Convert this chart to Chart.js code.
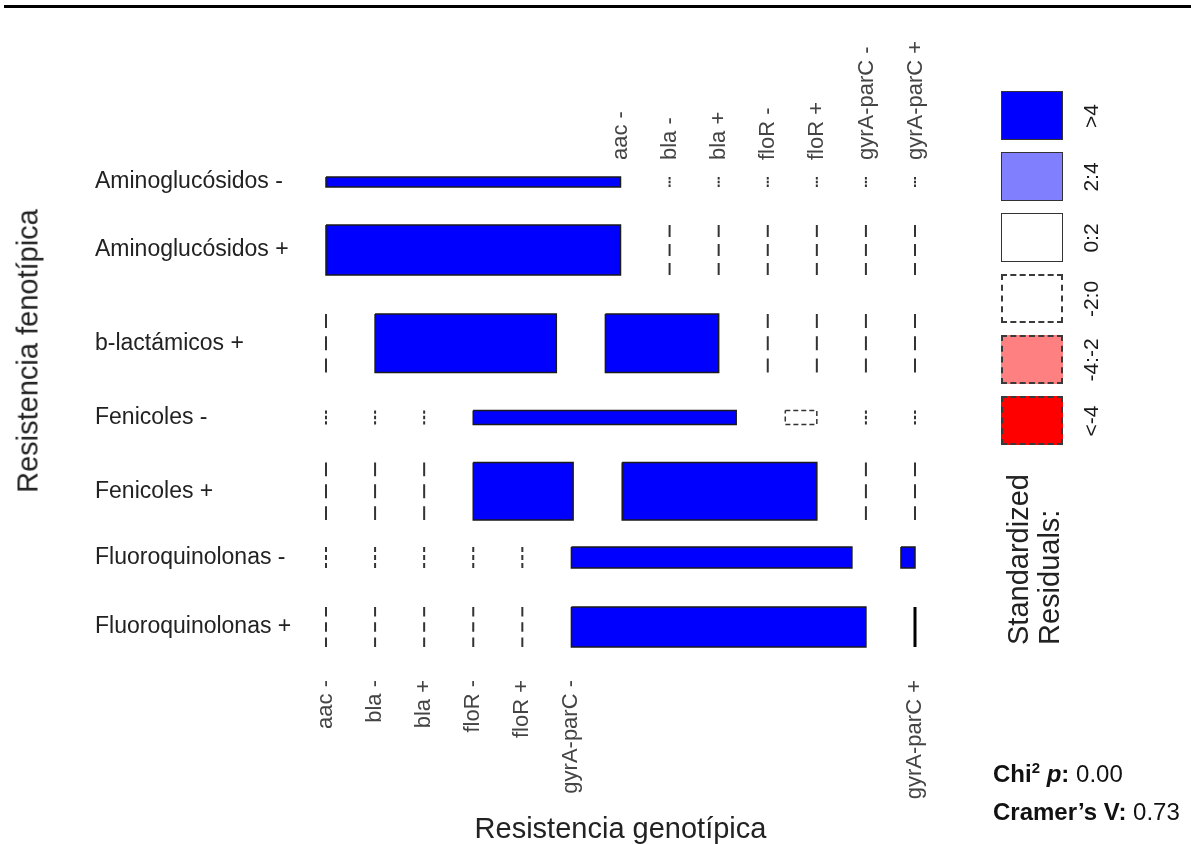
<!DOCTYPE html>
<html>
<head>
  <meta charset="UTF-8">
  <title>Resistencia fenotípica vs genotípica</title>
  <script src="https://cdn.jsdelivr.net/npm/chart.js"></script>
  <style>
    body { margin: 0; background: #fff; font-family: "Liberation Sans", Arial, sans-serif; color: #222; }
    #wrap { position: relative; width: 1191px; height: 844px; overflow: hidden; }
    #mosaic { position: absolute; left: 0; top: 0; }
    .abs { position: absolute; white-space: nowrap; }
    #ytitle { left: 28px; top: 351px; font-size: 29px; transform: translate(-50%, -50%) rotate(-90deg); }
    #ltitle { left: 1003px; top: 645px; font-size: 29px; line-height: 31px; transform-origin: 0 0; transform: rotate(-90deg); }
    .lbox { position: absolute; box-sizing: border-box; left: 1001px; width: 62px; height: 49px; border: 1.5px solid #333; }
    .llab { position: absolute; font-size: 21px; color: #1a1a1a; transform: translate(-50%, -50%) rotate(-90deg); white-space: nowrap; }
    .stats { font-size: 24px; color: #111; line-height: 28px; }
    .stats sup { font-size: 15px; }
  </style>
</head>
<body>
<div id="wrap">
  <div class="abs" style="left:4px;top:5px;width:1187px;height:3px;background:#000"></div>
  <canvas id="mosaic" width="1191" height="844"></canvas>
  <div id="ytitle" class="abs">Resistencia fenotípica</div>
  <div id="ltitle" class="abs">Standardized<br>Residuals:</div>
  <div id="legend"></div>
  <div class="abs stats" style="left:993px;top:754px"><b>Chi<sup>2</sup> <i>p</i>:</b> 0.00</div>
  <div class="abs stats" style="left:993px;top:798px"><b>Cramer’s V:</b> 0.73</div>
</div>
<script>
  // phenotype rows, genotype columns
  const rowLabels = ['Aminoglucósidos -', 'Aminoglucósidos +', 'b-lactámicos +', 'Fenicoles -',
                     'Fenicoles +', 'Fluoroquinolonas -', 'Fluoroquinolonas +'];
  const colLabels = ['aac -', 'bla -', 'bla +', 'floR -', 'floR +', 'gyrA-parC -', 'gyrA-parC +'];

  // cell counts read from the mosaic (row x column)
  const counts = [
    [20, 0, 0, 0, 0, 0, 0],
    [100, 0, 0, 0, 0, 0, 0],
    [0, 72, 45, 0, 0, 0, 0],
    [0, 0, 0, 25, 3, 0, 0],
    [0, 0, 0, 39, 76, 0, 0],
    [0, 0, 0, 0, 0, 40, 2],
    [0, 0, 0, 0, 0, 80, 0]
  ];

  // standardized residual class of each cell
  const residualClass = [
    ['>4', '-2:0', '-2:0', '-2:0', '-2:0', '-2:0', '-2:0'],
    ['>4', '-2:0', '-2:0', '-2:0', '-2:0', '-2:0', '-2:0'],
    ['-2:0', '>4', '>4', '-2:0', '-2:0', '-2:0', '-2:0'],
    ['-2:0', '-2:0', '-2:0', '>4', '-2:0', '-2:0', '-2:0'],
    ['-2:0', '-2:0', '-2:0', '>4', '>4', '-2:0', '-2:0'],
    ['-2:0', '-2:0', '-2:0', '-2:0', '-2:0', '>4', '>4'],
    ['-2:0', '-2:0', '-2:0', '-2:0', '-2:0', '>4', '0:2']
  ];

  const shadeLevels = ['>4', '2:4', '0:2', '-2:0', '-4:-2', '<-4'];
  const shadeFill = ['#0000ff', '#8080ff', '#ffffff', '#ffffff', '#ff8080', '#ff0000'];

  // mosaic layout: rows stacked, each row split by its column shares
  const gapX = 1 / 6;
  const gapsY = [76, 78, 76, 76, 54, 78];
  const rowTotals = counts.map(r => r.reduce((a, b) => a + b, 0));
  const cells = [];
  const rowCenters = [];
  let yPos = 0;
  counts.forEach((row, i) => {
    let xPos = 0;
    row.forEach((n, j) => {
      const w = n / rowTotals[i];
      cells.push({ i, j, x0: xPos, x1: xPos + w, y0: yPos, y1: yPos + rowTotals[i], cls: residualClass[i][j] });
      xPos += w + gapX;
    });
    rowCenters.push(yPos + rowTotals[i] / 2);
    yPos += rowTotals[i] + (gapsY[i] || 0);
  });
  const yMax = yPos;
  const xMax = 1 + gapX * (colLabels.length - 1);
  const topTicks = cells.filter(c => c.i === 0).map(c => c.x1);
  const bottomTicks = cells.filter(c => c.i === counts.length - 1).map(c => c.x0);

  const datasets = cells.map(c => {
    const lvl = shadeLevels.indexOf(c.cls);
    const negative = lvl >= 3;
    if (c.x1 - c.x0 === 0) {
      return {
        data: [{ x: c.x0, y: c.y0 }, { x: c.x0, y: c.y1 }],
        showLine: true, fill: false, clip: false,
        borderColor: negative ? '#333' : '#000',
        borderWidth: negative ? 2 : 3,
        borderDash: negative ? (ctx) => {
          const s = ctx.chart.scales.y;
          const h = Math.abs(s.getPixelForValue(c.y1) - s.getPixelForValue(c.y0));
          return [h * 0.24, h * 0.14];
        } : []
      };
    }
    return {
      data: [{ x: c.x0, y: c.y0 }, { x: c.x1, y: c.y0 }, { x: c.x1, y: c.y1 },
             { x: c.x0, y: c.y1 }, { x: c.x0, y: c.y0 }],
      showLine: true, fill: 'shape', clip: false,
      backgroundColor: shadeFill[lvl],
      borderColor: negative ? '#333' : '#1a1a1a',
      borderWidth: 1.5,
      borderDash: negative ? [5, 3] : []
    };
  });

  Chart.defaults.font.family = '"Liberation Sans", Arial, sans-serif';
  Chart.defaults.color = '#222';

  const hidden = { grid: { display: false, drawTicks: false }, border: { display: false } };

  new Chart(document.getElementById('mosaic'), {
    type: 'scatter',
    data: { datasets },
    options: {
      responsive: false,
      animation: false,
      events: [],
      layout: { autoPadding: false, padding: { left: 95, right: 276, top: 0, bottom: 0 } },
      elements: { point: { radius: 0 }, line: { tension: 0, borderJoinStyle: 'miter' } },
      scales: {
        x: {
          ...hidden, type: 'linear', position: 'bottom', min: 0, max: xMax, bounds: 'data',
          afterBuildTicks: s => { s.ticks = bottomTicks.map(v => ({ value: v })); },
          afterFit: s => { s.height = 197; },
          ticks: { autoSkip: false, minRotation: 90, maxRotation: 90, padding: 33, color: '#444',
                   font: { size: 22 }, callback: (v, i) => colLabels[i] },
          title: { display: true, text: 'Resistencia genotípica', color: '#222', font: { size: 29 },
                   padding: { top: 0, bottom: -3 } }
        },
        xTop: {
          ...hidden, type: 'linear', position: 'top', min: 0, max: xMax, bounds: 'data',
          afterBuildTicks: s => { s.ticks = topTicks.map(v => ({ value: v })); },
          afterFit: s => { s.height = 177; },
          ticks: { autoSkip: false, minRotation: 90, maxRotation: 90, padding: 17, labelOffset: 27,
                   color: '#444', font: { size: 22 }, callback: (v, i) => colLabels[i] }
        },
        y: {
          ...hidden, type: 'linear', position: 'left', reverse: true, min: 0, max: yMax, bounds: 'data',
          afterBuildTicks: s => { s.ticks = rowCenters.map(v => ({ value: v })); },
          afterFit: s => { s.width = 231; },
          ticks: { autoSkip: false, crossAlign: 'far', color: '#222', font: { size: 23 },
                   callback: (v, i) => rowLabels[i] }
        }
      },
      plugins: { legend: { display: false }, tooltip: { enabled: false } }
    }
  });

  // residual shading legend
  const legend = document.getElementById('legend');
  shadeLevels.forEach((lvl, k) => {
    const top = 91 + k * 61;
    const box = document.createElement('div');
    box.className = 'lbox';
    box.style.top = top + 'px';
    box.style.background = shadeFill[k];
    if (k >= 3) box.style.border = '2px dashed #3a3a3a';
    legend.appendChild(box);
    const lab = document.createElement('div');
    lab.className = 'llab';
    lab.style.left = '1091px';
    lab.style.top = (top + 24.5) + 'px';
    lab.textContent = lvl;
    legend.appendChild(lab);
  });
</script>
</body>
</html>
